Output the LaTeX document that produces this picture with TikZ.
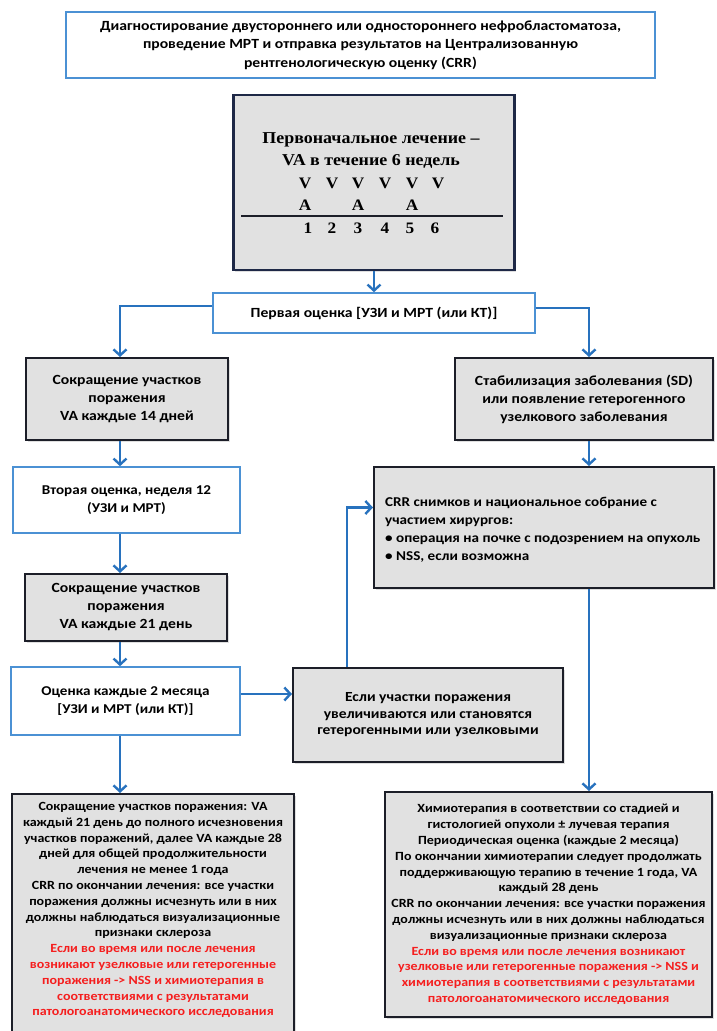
\documentclass[tikz,border=0pt]{standalone}
\usepackage{fontspec}
\setmainfont{Carlito}[FakeStretch=1.12]
\newfontfamily\serifb{Liberation Serif}[FakeStretch=1.08]
\usetikzlibrary{arrows.meta,calc,shadows}
\definecolor{cblue}{RGB}{40,114,190}
\definecolor{bblue}{RGB}{75,145,212}
\definecolor{gfill}{RGB}{225,225,225}
\definecolor{dk}{RGB}{28,30,40}
\definecolor{navy}{RGB}{30,40,70}
\definecolor{rtxt}{RGB}{245,30,30}
\newcommand{\fs}[2]{\fontsize{#1}{#2}\selectfont\bfseries}
\newcommand{\fsr}[2]{\fontsize{#1}{#2}\serifb\bfseries}
\newcommand{\rl}[1]{\textcolor{rtxt}{#1}}
\begin{document}
\begin{tikzpicture}[x=1pt,y=-1pt,
  wbox/.style={draw=bblue, line width=1.6pt, fill=white, inner sep=0pt, align=center},
  gbox/.style={draw=dk, line width=2pt, fill=gfill, inner sep=0pt, align=center,
     drop shadow={shadow xshift=1.5pt, shadow yshift=-1.5pt, opacity=0.25}},
  conn/.style={draw=cblue, line width=2.6pt, -{Straight Barb[length=6pt,width=13pt,line width=2.4pt]}},
  plain/.style={inner sep=0pt, align=center}]
\useasboundingbox (0,0) rectangle (717,1031);
\clip (0,0) rectangle (717,1031);
\fill[white] (0,0) rectangle (717,1031);

% top box
\node[wbox, minimum width=589pt, minimum height=66pt, font=\fs{14}{18.5}] (top) at (360.5,45)
 {Диагностирование двустороннего или одностороннего нефробластоматоза,\\
  проведение МРТ и отправка результатов на Централизованную\\
  рентгенологическую оценку (CRR)};

% big box
\node[gbox, draw=navy, line width=2.4pt, minimum width=281pt, minimum height=175pt] (big) at (374,182.5) {};
\node[plain, font=\fsr{16.6}{22}] (t1) at (371,151) {Первоначальное лечение –\\VA в течение 6 недель};
\foreach \x [count=\i] in {305,332,358,385,412,438} {
  \node[plain, font=\fsr{16}{18}] (v\i) at (\x,183) {V};
}
\foreach \x [count=\i] in {305,358,412} {
  \node[plain, font=\fsr{16}{18}] (a\i) at (\x,205) {A};
}
\foreach \x [count=\i] in {308,332,358,385,410,435} {
  \node[plain, font=\fsr{16}{18}] (n\i) at (\x,228) {\i};
}
\coordinate (r1) at (241,216);
\coordinate (r2) at (503,216);
\draw[line width=1.6pt, dk] (r1) -- (r2);

% first evaluation
\node[wbox, minimum width=322pt, minimum height=40pt, font=\fs{14}{16}] (ev1) at (374,313)
 {Первая оценка {[}УЗИ и МРТ (или КТ){]}};

% left column
\node[gbox, minimum width=202pt, minimum height=82pt, font=\fs{14}{18}] (L1) at (127,399)
 {Сокращение участков\\поражения\\VA каждые 14 дней};
\node[wbox, minimum width=227pt, minimum height=66pt, font=\fs{13.5}{18}] (L2) at (126.5,500)
 {Вторая оценка, неделя 12\\(УЗИ и МРТ)};
\node[gbox, minimum width=202pt, minimum height=67pt, font=\fs{14}{18}] (L3) at (126,607.5)
 {Сокращение участков\\поражения\\VA каждые 21 день};
\node[wbox, minimum width=229pt, minimum height=68pt, font=\fs{13.5}{18}] (L4) at (125.5,701)
 {Оценка каждые 2 месяца\\{[}УЗИ и МРТ (или КТ){]}};

% right column
\node[gbox, minimum width=258pt, minimum height=82pt, font=\fs{14}{18}] (R1) at (584,399)
 {Стабилизация заболевания (SD)\\или появление гетерогенного\\узелкового заболевания};
\node[gbox, minimum width=340pt, minimum height=121pt] (crr) at (544,527.5) {};
\node[plain, align=left, anchor=west, font=\fs{13.5}{18}] (crrt) at (385,530)
 {CRR снимков и национальное собрание  с\\
  участием хирургов:\\
  • операция на почке с подозрением на опухоль\\
  • NSS, если возможна};

% middle box
\node[gbox, minimum width=270pt, minimum height=94pt, font=\fs{13.9}{16.5}] (M) at (428,715)
 {Если участки поражения\\увеличиваются или становятся\\гетерогенными или узелковыми};

% bottom boxes
\node[gbox, minimum width=282pt, minimum height=252pt, anchor=north] (LB) at (153,793) {};
\node[plain, anchor=north, font=\fs{12.5}{15.8}] (LBt) at (153,802)
 {Сокращение участков поражения: VA\\
  каждый 21 день до полного исчезновения\\
  участков поражений, далее VA каждые 28\\
  дней для общей продолжительности\\
  лечения не менее 1 года\\
  CRR по окончании лечения: все участки\\
  поражения должны исчезнуть или в них\\
  должны наблюдаться визуализационные\\
  признаки склероза\\
  \rl{Если во время или после лечения}\\
  \rl{возникают узелковые или гетерогенные}\\
  \rl{поражения -> NSS и химиотерапия в}\\
  \rl{соответствиями с результатами}\\
  \rl{патологоанатомического исследования}};
\node[gbox, minimum width=327pt, minimum height=225pt, font=\fs{12.5}{15.8}] (RB) at (548.5,904.5)
 {Химиотерапия в соответствии со стадией и\\
  гистологией опухоли ± лучевая терапия\\
  Периодическая оценка (каждые 2 месяца)\\
  По окончании химиотерапии следует продолжать\\
  поддерживающую терапию в течение 1 года, VA\\
  каждый 28 день\\
  CRR по окончании лечения: все участки поражения\\
  должны исчезнуть или в них должны наблюдаться\\
  визуализационные признаки склероза\\
  \rl{Если во время или после лечения возникают}\\
  \rl{узелковые или гетерогенные поражения -> NSS и}\\
  \rl{химиотерапия в соответствиями с результатами}\\
  \rl{патологоанатомического исследования}};

% connectors
\coordinate (colx) at (120,0);
\coordinate (colr) at (589,0);
\coordinate (midx) at (347,0);
\draw[conn] (big) -- (ev1);
\draw[conn] ($(ev1.west)+(0,-7)$) -| (L1.north -| colx);
\draw[conn] ($(ev1.east)+(0,-5)$) -| (R1.north -| colr);
\draw[conn] (L1.south -| colx) -- (L2.north -| colx);
\draw[conn] (L2.south -| colx) -- (L3.north -| colx);
\draw[conn] (L3.south -| colx) -- (L4.north -| colx);
\draw[conn] (L4.south -| colx) -- (LB.north -| colx);
\draw[conn] ($(L4.east)+(0,-7)$) coordinate (t4) -- (t4 -| M.west);
\draw[conn] (M.north -| midx) |- ($(crr.west)+(0,-20)$);
\draw[conn] (R1.south -| colr) -- (crr.north -| colr);
\draw[conn] (crr.south -| colr) -- (RB.north -| colr);
\end{tikzpicture}
\end{document}
